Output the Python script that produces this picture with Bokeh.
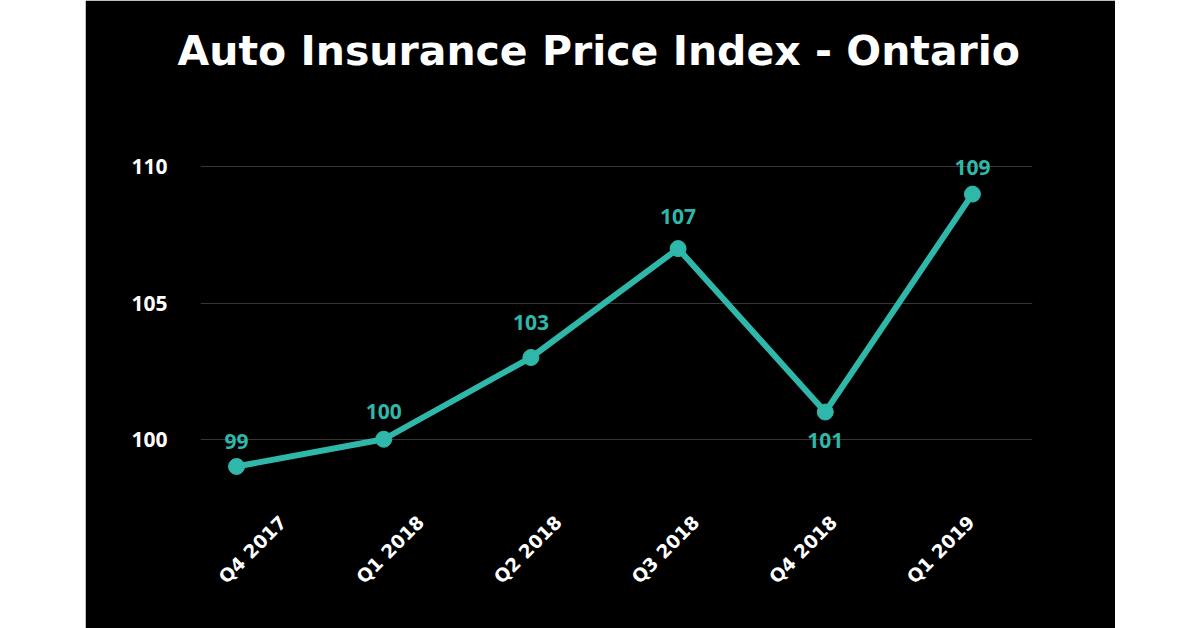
import math
from bokeh.plotting import figure
from bokeh.models import FixedTicker, ColumnDataSource, Range1d, Spacer, Title
from bokeh.layouts import row
from bokeh.core.properties import value
from bokeh.embed import file_html
from bokeh.resources import INLINE

categories = ["Q4 2017", "Q1 2018", "Q2 2018", "Q3 2018", "Q4 2018", "Q1 2019"]
index_values = [99, 100, 103, 107, 101, 109]
y_ticks = [100, 105, 110]

# style: pixel offsets of the value labels (negative = above the point)
label_offsets = [-25, -28, -35, -32, 28, -27]

TEAL = "#2fb8aa"
FONT = "Open Sans"
TFONT = "DejaVu Sans"

xs = list(range(len(categories)))
# category labels sit on a slightly tighter spacing than the points
cat_x = [0.109 + 0.935 * i for i in xs]

p = figure(width=1030, height=628, output_backend="svg", toolbar_location=None,
           x_range=Range1d(-0.2449, 5.408), y_range=Range1d(94.08, 112.51),
           min_border_left=115, min_border_right=83, min_border_top=0, min_border_bottom=28)
p.background_fill_color = "black"
p.border_fill_color = "black"
p.outline_line_color = "black"
p.outline_line_width = 2

title = Title(text="Auto Insurance Price Index - Ontario", align="left",
              text_font=TFONT, text_font_size="41px", text_font_style="bold",
              text_color="white", offset=-23, standoff=48)
p.add_layout(title, "above")

p.xaxis.visible = False
p.xgrid.grid_line_color = None
p.ygrid.ticker = FixedTicker(ticks=y_ticks)
p.ygrid.grid_line_color = "#363636"
p.ygrid.grid_line_width = 1
ya = p.yaxis[0]
ya.ticker = FixedTicker(ticks=y_ticks)
ya.axis_line_color = None
ya.major_tick_line_color = None
ya.minor_tick_line_color = None
ya.major_tick_out = 0
ya.major_label_standoff = 33
ya.major_label_text_color = "white"
ya.major_label_text_font = FONT
ya.major_label_text_font_style = "bold"
ya.major_label_text_font_size = "21px"

src = ColumnDataSource(dict(x=xs, y=index_values, lab=[str(v) for v in index_values],
                            off=label_offsets))
cat_src = ColumnDataSource(dict(x=cat_x, y=[95.95] * len(xs), cat=categories))

p.line("x", "y", source=src, line_color=TEAL, line_width=6)
p.scatter("x", "y", source=src, size=16, fill_color=TEAL, line_color=TEAL)
p.text("x", "y", text="lab", source=src, y_offset="off", text_align="center",
       text_baseline="middle", text_color=TEAL, text_font=value(FONT),
       text_font_style="bold", text_font_size="21px")
p.text("x", "y", text="cat", source=cat_src, angle=math.pi / 4,
       text_align="center", text_baseline="middle", text_color="white",
       text_font=value(TFONT), text_font_style="bold", text_font_size="18.5px")

layout = row(Spacer(width=85, height=628), p)
open("out.html", "w").write(file_html(layout, INLINE))
